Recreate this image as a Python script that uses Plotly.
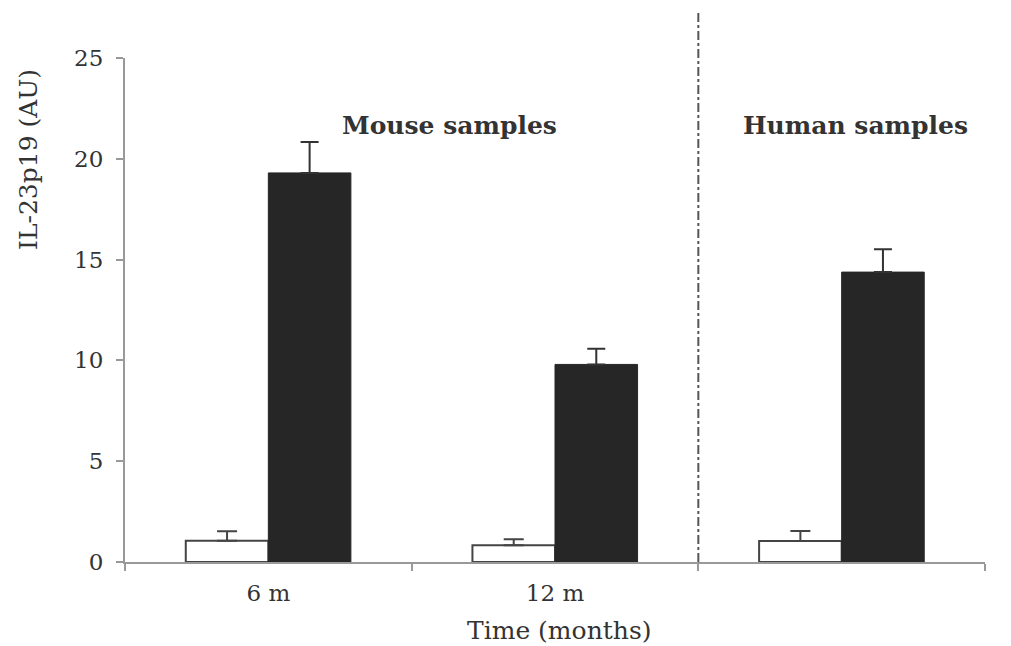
import plotly.graph_objects as go

categories = ["6 m", "12 m", " "]
control_values = [1.05, 0.83, 1.04]
control_errors = [0.47, 0.30, 0.50]
treated_values = [19.3, 9.8, 14.38]
treated_errors = [1.53, 0.78, 1.13]
y_ticks = [0, 5, 10, 15, 20, 25]

FONT = "DejaVu Serif"
TXT = "#333333"

fig = go.Figure()
fig.add_trace(go.Bar(
    x=categories, y=control_values, name="control",
    marker=dict(color="white", line=dict(color="#444444", width=2)),
    error_y=dict(type="data", array=control_errors, symmetric=False,
                 arrayminus=[0, 0, 0], color="#444444", thickness=2, width=10),
))
fig.add_trace(go.Bar(
    x=categories, y=treated_values, name="treated",
    marker=dict(color="#262626", line=dict(color="#262626", width=1)),
    error_y=dict(type="data", array=treated_errors, symmetric=False,
                 arrayminus=[0, 0, 0], color="#333333", thickness=2, width=9),
))

fig.add_shape(type="line", xref="x", yref="paper", x0=1.5, x1=1.5, y0=0, y1=1.095,
              line=dict(color="#555555", width=2, dash="dashdot"))

fig.add_annotation(text="<b>Mouse samples</b>", xref="paper", yref="paper",
                   x=0.377, y=(562 - 126) / 504, showarrow=False,
                   font=dict(family=FONT, size=25, color=TXT), xanchor="center", yanchor="middle")
fig.add_annotation(text="<b>Human samples</b>", xref="paper", yref="paper",
                   x=0.849, y=(562 - 126) / 504, showarrow=False,
                   font=dict(family=FONT, size=25, color=TXT), xanchor="center", yanchor="middle")
fig.add_annotation(text="IL-23p19 (AU)", xref="paper", yref="paper",
                   x=(29 - 125) / 860, y=(562 - 160) / 504, textangle=-90, showarrow=False,
                   font=dict(family=FONT, size=25, color=TXT), xanchor="center", yanchor="middle")
fig.add_annotation(text="Time (months)", xref="paper", yref="paper",
                   x=(559 - 125) / 860, y=(562 - 630) / 504, showarrow=False,
                   font=dict(family=FONT, size=25, color=TXT), xanchor="center", yanchor="middle")

# page body has an 8px margin, so the figure is sized/offset to compensate
fig.update_layout(
    width=1003, height=638,
    margin=dict(l=117, r=26, t=50, b=84),
    paper_bgcolor="white", plot_bgcolor="white",
    barmode="group", bargap=0.424, bargroupgap=0,
    showlegend=False,
    font=dict(family=FONT, color=TXT),
)
fig.update_xaxes(
    type="category", categoryorder="array", categoryarray=categories,
    showline=True, linecolor="#999999", linewidth=2,
    ticks="outside", tickson="boundaries", ticklen=7, tickcolor="#999999", tickwidth=2,
    showgrid=False, zeroline=False,
    tickfont=dict(family=FONT, size=23, color=TXT), ticklabelstandoff=9,
)
fig.update_yaxes(
    range=[0, 25], tickvals=y_ticks,
    showline=True, linecolor="#999999", linewidth=2,
    ticks="outside", ticklen=7, tickcolor="#999999", tickwidth=2,
    showgrid=False, zeroline=False,
    tickfont=dict(family=FONT, size=23, color=TXT), ticklabelstandoff=8,
)

fig.write_html("out.html")
